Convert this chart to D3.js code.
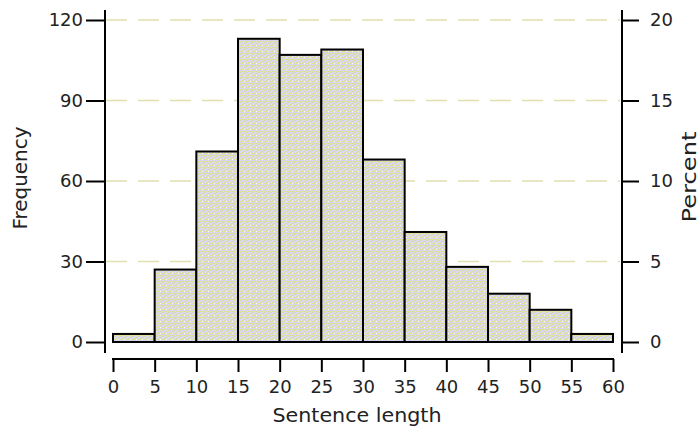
<!DOCTYPE html>
<html>
<head>
<meta charset="utf-8">
<script src="https://cdn.jsdelivr.net/npm/d3@7"></script>
<style>
  body { margin: 0; background: #fff; }
  svg { display: block; }
</style>
</head>
<body>
<svg id="chart" width="700" height="431"></svg>
<script>
// ---- data ----
const binStarts = [0, 5, 10, 15, 20, 25, 30, 35, 40, 45, 50, 55];
const binWidth = 5;
const frequencies = [3, 27, 71, 113, 107, 109, 68, 41, 28, 18, 12, 3];
const freqTicks = [0, 30, 60, 90, 120];
const percentTicks = [0, 5, 10, 15, 20];
const xTicks = [0, 5, 10, 15, 20, 25, 30, 35, 40, 45, 50, 55, 60];
const xTitle = "Sentence length";
const yTitle = "Frequency";
const y2Title = "Percent";

const total = d3.sum(frequencies);

const svg = d3.select("#chart");
const font = "'DejaVu Sans', 'Liberation Sans', Arial, sans-serif";

const x = d3.scaleLinear().domain([0, 60]).range([113, 613]);
const y = d3.scaleLinear().domain([0, 120]).range([342, 20]);
const yPct = d3.scaleLinear().domain([0, 120 / total * 100]).range([342, 20]);

// texture pattern for bars
const defs = svg.append("defs");
const pat = defs.append("pattern").attr("id", "tex").attr("patternUnits", "userSpaceOnUse")
  .attr("width", 6).attr("height", 6);
pat.append("rect").attr("width", 6).attr("height", 6).attr("fill", "#dadaf8");
const dots = [[0,0],[1,0],[3,1],[4,1],[2,2],[5,2],[0,3],[1,4],[3,4],[4,5],[5,4],[2,5],[5,0],[2,3],[0,5]];
dots.forEach(([a, b]) => pat.append("rect").attr("x", a).attr("y", b).attr("width", 1).attr("height", 1).attr("fill", "#dcdc9a"));
pat.append("rect").attr("x", 4).attr("y", 3).attr("width", 1).attr("height", 1).attr("fill", "#fbfbe8");

// gridlines
svg.append("g").selectAll("line").data(freqTicks.filter(d => d > 0)).join("line")
  .attr("x1", 106).attr("x2", 620)
  .attr("y1", d => y(d)).attr("y2", d => y(d))
  .attr("stroke", "#e2e0b0").attr("stroke-width", 1.5)
  .attr("stroke-dasharray", "21,11");

// bars
svg.append("g").selectAll("rect").data(binStarts).join("rect")
  .attr("x", (d) => x(d))
  .attr("width", d => x(d + binWidth) - x(d))
  .attr("y", (d, i) => y(frequencies[i]))
  .attr("height", (d, i) => y(0) - y(frequencies[i]))
  .attr("fill", "url(#tex)")
  .attr("stroke", "#000").attr("stroke-width", 2);

function styleAxis(g) {
  g.select(".domain").remove();
  g.selectAll(".tick line").attr("stroke", "#000").attr("stroke-width", 2);
  g.selectAll(".tick text").attr("fill", "#222").style("font-family", font).style("font-size", "18px");
}

// left axis
svg.append("g").attr("transform", "translate(105,0)")
  .call(d3.axisLeft(y).tickValues(freqTicks).tickSize(19).tickPadding(3))
  .call(styleAxis);
svg.append("line").attr("x1", 105).attr("x2", 105).attr("y1", 10).attr("y2", 353)
  .attr("stroke", "#000").attr("stroke-width", 2);

// right axis
svg.append("g").attr("transform", "translate(622,0)")
  .call(d3.axisRight(yPct).tickValues(percentTicks).tickSize(17).tickPadding(11))
  .call(styleAxis);
svg.append("line").attr("x1", 622).attr("x2", 622).attr("y1", 10).attr("y2", 353)
  .attr("stroke", "#000").attr("stroke-width", 2);

// bottom axis
svg.append("g").attr("transform", "translate(0,359)")
  .call(d3.axisBottom(x).tickValues(xTicks).tickSize(13).tickPadding(8))
  .call(styleAxis);
svg.append("line").attr("x1", 112).attr("x2", 614).attr("y1", 359).attr("y2", 359)
  .attr("stroke", "#000").attr("stroke-width", 2);

// titles
svg.append("text").attr("x", 357).attr("y", 422)
  .attr("text-anchor", "middle")
  .attr("textLength", 169).attr("lengthAdjust", "spacingAndGlyphs")
  .style("font-family", font).style("font-size", "20px").attr("fill", "#222")
  .text(xTitle);

svg.append("text").attr("transform", "translate(27,178) rotate(-90)")
  .attr("text-anchor", "middle")
  .attr("textLength", 103).attr("lengthAdjust", "spacingAndGlyphs")
  .style("font-family", font).style("font-size", "20px").attr("fill", "#222")
  .text(yTitle);

svg.append("text").attr("transform", "translate(696,177) rotate(-90)")
  .attr("text-anchor", "middle")
  .attr("textLength", 91).attr("lengthAdjust", "spacingAndGlyphs")
  .style("font-family", font).style("font-size", "20px").attr("fill", "#222")
  .text(y2Title);
</script>
</body>
</html>
